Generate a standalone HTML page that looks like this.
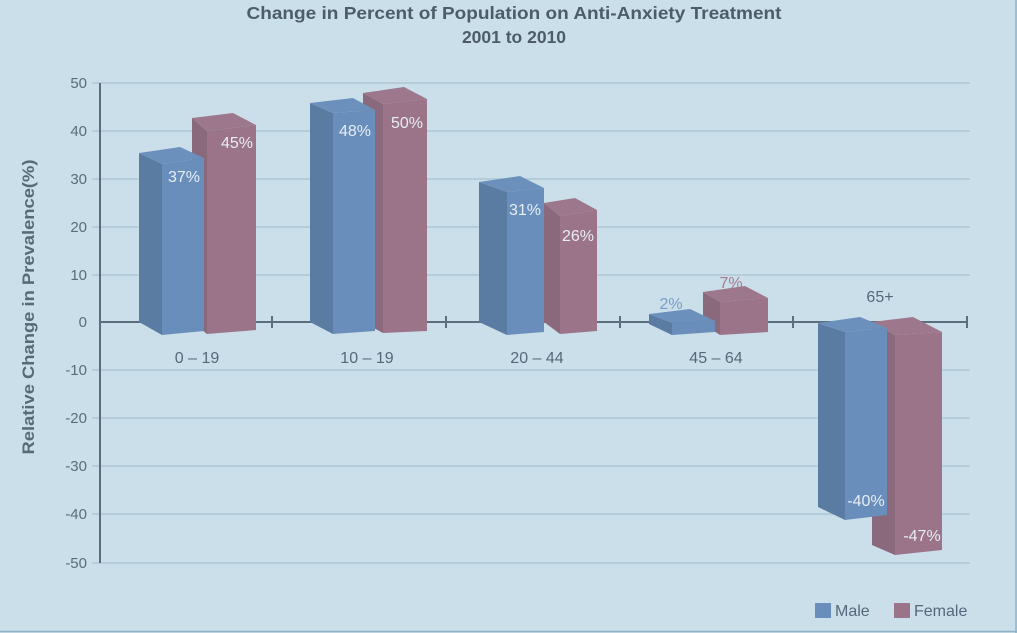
<!DOCTYPE html>
<html><head><meta charset="utf-8"><style>
html,body{margin:0;padding:0;background:#cbdfea;}
svg{display:block;}
text{font-family:"Liberation Sans",sans-serif;}
</style></head><body>
<svg width="1017" height="633" viewBox="0 0 1017 633" xmlns="http://www.w3.org/2000/svg">
<rect x="0" y="0" width="1017" height="633" fill="#cbdfea"/>
<line x1="0" y1="631.5" x2="1017" y2="631.5" stroke="#8fb2c8" stroke-width="1.5"/>
<line x1="1016" y1="0" x2="1016" y2="633" stroke="#8fb2c8" stroke-width="1.5"/>
<!-- title -->
<text x="514" y="19" text-anchor="middle" font-size="17.5" font-weight="bold" fill="#4c5c68" textLength="535" lengthAdjust="spacingAndGlyphs">Change in Percent of Population on Anti-Anxiety Treatment</text>
<text x="514" y="43" text-anchor="middle" font-size="17.5" font-weight="bold" fill="#4c5c68">2001 to 2010</text>
<!-- y title -->
<text transform="translate(34,307) rotate(-90)" text-anchor="middle" font-size="17" font-weight="bold" fill="#566a78" textLength="295" lengthAdjust="spacingAndGlyphs">Relative Change in Prevalence(%)</text>
<!-- gridlines -->
<g stroke="#aec7d6" stroke-width="1.5">
<line x1="92" y1="83" x2="970" y2="83"/>
<line x1="92" y1="131" x2="970" y2="131"/>
<line x1="92" y1="179" x2="970" y2="179"/>
<line x1="92" y1="227" x2="970" y2="227"/>
<line x1="92" y1="275" x2="970" y2="275"/>
<line x1="92" y1="370" x2="970" y2="370"/>
<line x1="92" y1="418" x2="970" y2="418"/>
<line x1="92" y1="466" x2="970" y2="466"/>
<line x1="92" y1="514" x2="970" y2="514"/>
<line x1="92" y1="563" x2="970" y2="563"/>
</g>
<!-- y tick labels -->
<g font-size="15" fill="#5a6c7a" text-anchor="end">
<text x="87" y="88">50</text>
<text x="87" y="136">40</text>
<text x="87" y="184">30</text>
<text x="87" y="232">20</text>
<text x="87" y="280">10</text>
<text x="87" y="327">0</text>
<text x="87" y="375">-10</text>
<text x="87" y="423">-20</text>
<text x="87" y="471">-30</text>
<text x="87" y="519">-40</text>
<text x="87" y="568">-50</text>
</g>
<!-- axes -->
<g stroke="#5b6e7d" stroke-width="2">
<line x1="100" y1="83" x2="100" y2="563"/>
<line x1="100" y1="322" x2="967" y2="322"/>
<line x1="272" y1="316" x2="272" y2="328"/>
<line x1="446" y1="316" x2="446" y2="328"/>
<line x1="620" y1="316" x2="620" y2="328"/>
<line x1="793" y1="316" x2="793" y2="328"/>
<line x1="967" y1="316" x2="967" y2="328"/>
</g>
<!-- bars: female first, then male -->
<g>
<!-- 0-19 female -->
<polygon points="192,118 207,131 207,334 192,322" fill="#8b697d"/>
<polygon points="192,118 233,113 256,125 207,131" fill="#9d778b"/>
<polygon points="207,131 256,125 256,330 207,334" fill="#9b7489"/>
<!-- 0-19 male -->
<polygon points="139,153 162,164 162,335 139,322" fill="#5b7ca2"/>
<polygon points="139,153 180,147 204,158 162,164" fill="#6c90bc"/>
<polygon points="162,164 204,158 204,331 162,335" fill="#6a8ebb"/>

<!-- 10-19 female -->
<polygon points="363,93 383,104 383,333 363,322" fill="#8b697d"/>
<polygon points="363,93 404,87 427,99 383,104" fill="#9d778b"/>
<polygon points="383,104 427,99 427,331 383,333" fill="#9b7489"/>
<!-- 10-19 male -->
<polygon points="310,103 333,113 333,334 310,322" fill="#5b7ca2"/>
<polygon points="310,103 353,98 375,110 333,113" fill="#6c90bc"/>
<polygon points="333,113 375,110 375,331 333,334" fill="#6a8ebb"/>

<!-- 20-44 female -->
<polygon points="544,203 560,216 560,334 544,322" fill="#8b697d"/>
<polygon points="544,203 575,198 597,210 560,216" fill="#9d778b"/>
<polygon points="560,216 597,210 597,331 560,334" fill="#9b7489"/>
<!-- 20-44 male -->
<polygon points="479,182 507,192 507,335 479,322" fill="#5b7ca2"/>
<polygon points="479,182 520,176 544,188 507,192" fill="#6c90bc"/>
<polygon points="507,192 544,188 544,332 507,335" fill="#6a8ebb"/>

<!-- 45-64 female -->
<polygon points="703,292 720,302 720,335 703,324" fill="#8b697d"/>
<polygon points="703,292 745,286 768,298 720,302" fill="#9d778b"/>
<polygon points="720,302 768,298 768,332 720,335" fill="#9b7489"/>
<!-- 45-64 male -->
<polygon points="649,314 672,323 672,335 649,324" fill="#5b7ca2"/>
<polygon points="649,314 690,309 715,321 672,323" fill="#6c90bc"/>
<polygon points="672,323 715,321 715,332 672,335" fill="#6a8ebb"/>

<!-- 65+ female -->
<polygon points="872,322 895,335 895,555 872,545" fill="#8b697d"/>
<polygon points="872,322 913,317 942,332 895,335" fill="#9d778b"/>
<polygon points="895,335 942,332 942,550 895,555" fill="#9b7489"/>
<!-- 65+ male -->
<polygon points="818,323 845,332 845,520 818,507" fill="#5b7ca2"/>
<polygon points="818,323 860,317 887,328 845,332" fill="#6c90bc"/>
<polygon points="845,332 887,328 887,515 845,520" fill="#6a8ebb"/>
</g>
<!-- data labels -->
<g font-size="16" fill="#e6eef5" text-anchor="middle">
<text x="184" y="182">37%</text>
<text x="237" y="148">45%</text>
<text x="355" y="136">48%</text>
<text x="407" y="128">50%</text>
<text x="525" y="215">31%</text>
<text x="578" y="241">26%</text>
<text x="866" y="506">-40%</text>
<text x="922" y="541">-47%</text>
</g>
<text x="671" y="309" font-size="16" fill="#7a9dc7" text-anchor="middle">2%</text>
<text x="731" y="288" font-size="16" fill="#a57a90" text-anchor="middle">7%</text>
<!-- category labels -->
<g font-size="16" fill="#55687a" text-anchor="middle">
<text x="197" y="363">0 – 19</text>
<text x="367" y="363">10 – 19</text>
<text x="537" y="363">20 – 44</text>
<text x="716" y="363">45 – 64</text>
<text x="880" y="302">65+</text>
</g>
<!-- legend -->
<rect x="815" y="603" width="16" height="15" fill="#6a8ebb"/>
<text x="835" y="616" font-size="16" fill="#55687a">Male</text>
<rect x="894" y="603" width="16" height="15" fill="#9b7489"/>
<text x="914" y="616" font-size="16" fill="#55687a">Female</text>
</svg>
</body></html>
